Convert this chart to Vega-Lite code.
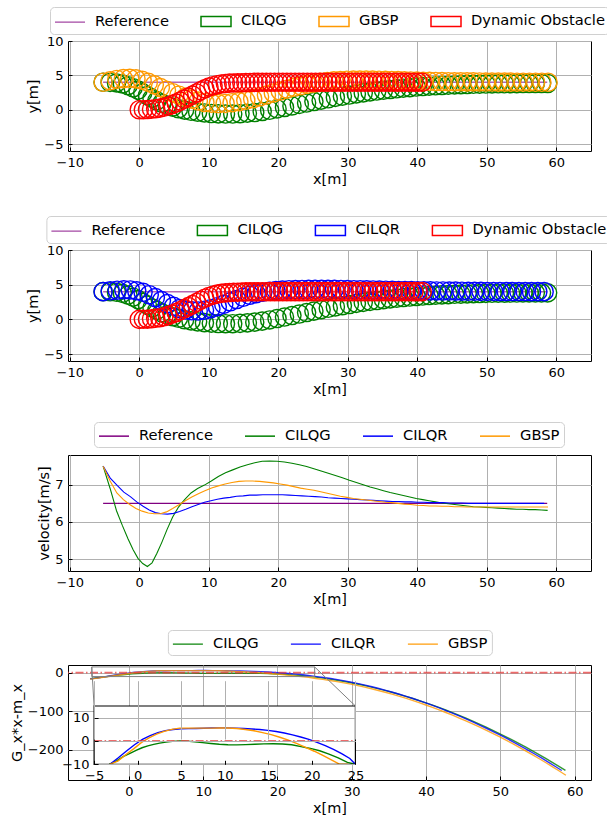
{
  "$schema": "https://vega.github.io/schema/vega-lite/v6.json",
  "background": "white",
  "padding": {"left": 8, "top": 6, "right": 0, "bottom": 4},
  "config": {
    "font": "DejaVu Sans",
    "view": {"stroke": "black", "strokeWidth": 1},
    "axis": {"domain": false, "grid": true, "gridColor": "#b0b0b0", "gridWidth": 1, "tickColor": "black", "tickSize": -4, "labelPadding": 9, "labelFontSize": 13, "labelColor": "black", "labelFont": "DejaVu Sans", "titleFont": "DejaVu Sans", "titleFontSize": 14.5, "titleFontWeight": "normal", "titleColor": "black", "titlePadding": 3, "labelFlush": false, "labelOverlap": false},
    "legend": {"orient": "none", "direction": "horizontal", "columns": 4, "labelFontSize": 14.7, "labelFont": "DejaVu Sans", "labelColor": "black", "symbolSize": 324, "symbolOffset": 6, "symbolType": "M-1.667,0H1.667", "symbolStrokeWidth": 1.5, "labelOffset": 15, "columnPadding": 28, "padding": 4, "strokeColor": "#d0d0d0", "cornerRadius": 4, "fillColor": "white"}
  },
  "datasets": {
    "traj": [
      {"m":"CILQG","x":-5.2,"y":4.0,"v":7.5,"g":-15.5},
      {"m":"CILQG","x":-4.19,"y":3.97,"v":6.9,"g":-13.0},
      {"m":"CILQG","x":-3.27,"y":3.9,"v":6.3,"g":-10.7},
      {"m":"CILQG","x":-2.42,"y":3.75,"v":5.9,"g":-8.5},
      {"m":"CILQG","x":-1.62,"y":3.5,"v":5.55,"g":-6.6},
      {"m":"CILQG","x":-0.88,"y":3.2,"v":5.25,"g":-5.3},
      {"m":"CILQG","x":-0.18,"y":2.85,"v":5.02,"g":-4.0},
      {"m":"CILQG","x":0.5,"y":2.45,"v":4.88,"g":-2.9},
      {"m":"CILQG","x":1.17,"y":2.05,"v":4.8,"g":-2.1},
      {"m":"CILQG","x":1.84,"y":1.65,"v":4.9,"g":-1.45},
      {"m":"CILQG","x":2.53,"y":1.3,"v":5.15,"g":-0.9},
      {"m":"CILQG","x":3.25,"y":0.95,"v":5.45,"g":-0.5},
      {"m":"CILQG","x":4.01,"y":0.65,"v":5.8,"g":-0.15},
      {"m":"CILQG","x":4.81,"y":0.38,"v":6.13,"g":0.0},
      {"m":"CILQG","x":5.65,"y":0.15,"v":6.4,"g":-0.05},
      {"m":"CILQG","x":6.53,"y":-0.05,"v":6.6,"g":-0.3},
      {"m":"CILQG","x":7.45,"y":-0.22,"v":6.78,"g":-0.7},
      {"m":"CILQG","x":8.4,"y":-0.36,"v":6.9,"g":-1.05},
      {"m":"CILQG","x":9.38,"y":-0.47,"v":6.99,"g":-1.4},
      {"m":"CILQG","x":10.37,"y":-0.55,"v":7.1,"g":-1.6},
      {"m":"CILQG","x":11.38,"y":-0.6,"v":7.22,"g":-1.65},
      {"m":"CILQG","x":12.41,"y":-0.62,"v":7.32,"g":-1.55},
      {"m":"CILQG","x":13.45,"y":-0.62,"v":7.4,"g":-1.4},
      {"m":"CILQG","x":14.5,"y":-0.58,"v":7.48,"g":-1.25},
      {"m":"CILQG","x":15.56,"y":-0.5,"v":7.54,"g":-1.2},
      {"m":"CILQG","x":16.62,"y":-0.4,"v":7.59,"g":-1.3},
      {"m":"CILQG","x":17.69,"y":-0.25,"v":7.63,"g":-1.6},
      {"m":"CILQG","x":18.76,"y":-0.08,"v":7.64,"g":-2.4},
      {"m":"CILQG","x":19.83,"y":0.12,"v":7.63,"g":-3.2},
      {"m":"CILQG","x":20.9,"y":0.33,"v":7.61,"g":-4.2},
      {"m":"CILQG","x":21.97,"y":0.55,"v":7.58,"g":-5.6},
      {"m":"CILQG","x":23.03,"y":0.77,"v":7.54,"g":-7.2},
      {"m":"CILQG","x":24.08,"y":0.98,"v":7.49,"g":-9.2},
      {"m":"CILQG","x":25.13,"y":1.19,"v":7.43,"g":-11.5},
      {"m":"CILQG","x":26.17,"y":1.4,"v":7.37,"g":-14.1},
      {"m":"CILQG","x":27.2,"y":1.6,"v":7.31,"g":-17.0},
      {"m":"CILQG","x":28.22,"y":1.79,"v":7.25,"g":-20.1},
      {"m":"CILQG","x":29.23,"y":1.97,"v":7.19,"g":-23.5},
      {"m":"CILQG","x":30.24,"y":2.14,"v":7.12,"g":-27.2},
      {"m":"CILQG","x":31.24,"y":2.3,"v":7.06,"g":-31.2},
      {"m":"CILQG","x":32.23,"y":2.45,"v":7.0,"g":-35.4},
      {"m":"CILQG","x":33.21,"y":2.59,"v":6.94,"g":-39.8},
      {"m":"CILQG","x":34.18,"y":2.72,"v":6.89,"g":-44.5},
      {"m":"CILQG","x":35.14,"y":2.84,"v":6.84,"g":-49.4},
      {"m":"CILQG","x":36.1,"y":2.95,"v":6.79,"g":-54.5},
      {"m":"CILQG","x":37.05,"y":3.05,"v":6.75,"g":-59.9},
      {"m":"CILQG","x":37.99,"y":3.14,"v":6.71,"g":-65.4},
      {"m":"CILQG","x":38.93,"y":3.22,"v":6.67,"g":-71.3},
      {"m":"CILQG","x":39.86,"y":3.3,"v":6.63,"g":-77.3},
      {"m":"CILQG","x":40.79,"y":3.37,"v":6.6,"g":-83.5},
      {"m":"CILQG","x":41.71,"y":3.43,"v":6.57,"g":-89.9},
      {"m":"CILQG","x":42.63,"y":3.48,"v":6.54,"g":-96.6},
      {"m":"CILQG","x":43.55,"y":3.53,"v":6.51,"g":-103.5},
      {"m":"CILQG","x":44.46,"y":3.57,"v":6.49,"g":-110.6},
      {"m":"CILQG","x":45.37,"y":3.61,"v":6.47,"g":-117.9},
      {"m":"CILQG","x":46.28,"y":3.64,"v":6.45,"g":-125.5},
      {"m":"CILQG","x":47.18,"y":3.67,"v":6.43,"g":-133.2},
      {"m":"CILQG","x":48.08,"y":3.7,"v":6.41,"g":-141.1},
      {"m":"CILQG","x":48.98,"y":3.72,"v":6.4,"g":-149.3},
      {"m":"CILQG","x":49.87,"y":3.74,"v":6.39,"g":-157.6},
      {"m":"CILQG","x":50.76,"y":3.76,"v":6.38,"g":-166.1},
      {"m":"CILQG","x":51.65,"y":3.77,"v":6.37,"g":-174.9},
      {"m":"CILQG","x":52.54,"y":3.78,"v":6.36,"g":-183.9},
      {"m":"CILQG","x":53.43,"y":3.79,"v":6.35,"g":-193.1},
      {"m":"CILQG","x":54.32,"y":3.8,"v":6.34,"g":-202.6},
      {"m":"CILQG","x":55.21,"y":3.81,"v":6.34,"g":-212.2},
      {"m":"CILQG","x":56.1,"y":3.81,"v":6.33,"g":-222.1},
      {"m":"CILQG","x":56.99,"y":3.82,"v":6.33,"g":-232.3},
      {"m":"CILQG","x":57.88,"y":3.82,"v":6.32,"g":-242.7},
      {"m":"CILQG","x":58.76,"y":3.82,"v":6.31,"g":-253.1},
      {"m":"CILQR","x":-5.2,"y":4.0,"v":7.5,"g":-16.0},
      {"m":"CILQR","x":-4.17,"y":4.12,"v":7.18,"g":-13.5},
      {"m":"CILQR","x":-3.18,"y":4.2,"v":6.98,"g":-10.4},
      {"m":"CILQR","x":-2.22,"y":4.26,"v":6.8,"g":-7.2},
      {"m":"CILQR","x":-1.28,"y":4.24,"v":6.68,"g":-4.3},
      {"m":"CILQR","x":-0.36,"y":4.12,"v":6.54,"g":-1.6},
      {"m":"CILQR","x":0.55,"y":3.9,"v":6.42,"g":0.7},
      {"m":"CILQR","x":1.44,"y":3.55,"v":6.32,"g":2.3},
      {"m":"CILQR","x":2.32,"y":3.14,"v":6.25,"g":3.6},
      {"m":"CILQR","x":3.19,"y":2.7,"v":6.22,"g":4.45},
      {"m":"CILQR","x":4.06,"y":2.27,"v":6.21,"g":4.95},
      {"m":"CILQR","x":4.93,"y":1.88,"v":6.23,"g":5.2},
      {"m":"CILQR","x":5.81,"y":1.56,"v":6.28,"g":5.3},
      {"m":"CILQR","x":6.69,"y":1.34,"v":6.34,"g":5.35},
      {"m":"CILQR","x":7.58,"y":1.23,"v":6.41,"g":5.45},
      {"m":"CILQR","x":8.48,"y":1.21,"v":6.47,"g":5.55},
      {"m":"CILQR","x":9.39,"y":1.32,"v":6.53,"g":5.6},
      {"m":"CILQR","x":10.31,"y":1.54,"v":6.57,"g":5.6},
      {"m":"CILQR","x":11.23,"y":1.83,"v":6.61,"g":5.5},
      {"m":"CILQR","x":12.16,"y":2.16,"v":6.64,"g":5.35},
      {"m":"CILQR","x":13.09,"y":2.53,"v":6.66,"g":5.15},
      {"m":"CILQR","x":14.02,"y":2.86,"v":6.69,"g":4.9},
      {"m":"CILQR","x":14.96,"y":3.19,"v":6.7,"g":4.55},
      {"m":"CILQR","x":15.9,"y":3.47,"v":6.72,"g":4.05},
      {"m":"CILQR","x":16.84,"y":3.71,"v":6.72,"g":3.4},
      {"m":"CILQR","x":17.78,"y":3.91,"v":6.73,"g":2.6},
      {"m":"CILQR","x":18.72,"y":4.06,"v":6.73,"g":1.7},
      {"m":"CILQR","x":19.66,"y":4.16,"v":6.73,"g":0.7},
      {"m":"CILQR","x":20.6,"y":4.22,"v":6.73,"g":-0.6},
      {"m":"CILQR","x":21.54,"y":4.27,"v":6.72,"g":-2.0},
      {"m":"CILQR","x":22.48,"y":4.3,"v":6.71,"g":-3.6},
      {"m":"CILQR","x":23.42,"y":4.31,"v":6.7,"g":-5.4},
      {"m":"CILQR","x":24.36,"y":4.32,"v":6.69,"g":-7.5},
      {"m":"CILQR","x":25.3,"y":4.33,"v":6.68,"g":-10.0},
      {"m":"CILQR","x":26.23,"y":4.33,"v":6.67,"g":-12.4},
      {"m":"CILQR","x":27.16,"y":4.33,"v":6.65,"g":-15.1},
      {"m":"CILQR","x":28.09,"y":4.33,"v":6.64,"g":-18.0},
      {"m":"CILQR","x":29.02,"y":4.31,"v":6.63,"g":-21.2},
      {"m":"CILQR","x":29.95,"y":4.3,"v":6.62,"g":-24.7},
      {"m":"CILQR","x":30.88,"y":4.28,"v":6.61,"g":-28.4},
      {"m":"CILQR","x":31.8,"y":4.27,"v":6.6,"g":-32.3},
      {"m":"CILQR","x":32.72,"y":4.25,"v":6.59,"g":-36.5},
      {"m":"CILQR","x":33.64,"y":4.24,"v":6.58,"g":-41.0},
      {"m":"CILQR","x":34.56,"y":4.22,"v":6.57,"g":-45.6},
      {"m":"CILQR","x":35.48,"y":4.21,"v":6.56,"g":-50.6},
      {"m":"CILQR","x":36.4,"y":4.19,"v":6.55,"g":-55.8},
      {"m":"CILQR","x":37.32,"y":4.17,"v":6.55,"g":-61.2},
      {"m":"CILQR","x":38.24,"y":4.16,"v":6.54,"g":-66.9},
      {"m":"CILQR","x":39.15,"y":4.14,"v":6.54,"g":-72.8},
      {"m":"CILQR","x":40.06,"y":4.13,"v":6.53,"g":-78.9},
      {"m":"CILQR","x":40.97,"y":4.12,"v":6.53,"g":-85.3},
      {"m":"CILQR","x":41.88,"y":4.11,"v":6.52,"g":-91.9},
      {"m":"CILQR","x":42.79,"y":4.1,"v":6.52,"g":-98.8},
      {"m":"CILQR","x":43.7,"y":4.09,"v":6.52,"g":-105.9},
      {"m":"CILQR","x":44.61,"y":4.08,"v":6.51,"g":-113.3},
      {"m":"CILQR","x":45.52,"y":4.07,"v":6.51,"g":-120.9},
      {"m":"CILQR","x":46.43,"y":4.06,"v":6.51,"g":-128.7},
      {"m":"CILQR","x":47.34,"y":4.05,"v":6.5,"g":-136.9},
      {"m":"CILQR","x":48.25,"y":4.05,"v":6.5,"g":-145.2},
      {"m":"CILQR","x":49.16,"y":4.04,"v":6.5,"g":-153.8},
      {"m":"CILQR","x":50.07,"y":4.03,"v":6.5,"g":-162.6},
      {"m":"CILQR","x":50.98,"y":4.03,"v":6.5,"g":-171.7},
      {"m":"CILQR","x":51.89,"y":4.02,"v":6.5,"g":-181.1},
      {"m":"CILQR","x":52.8,"y":4.02,"v":6.5,"g":-190.7},
      {"m":"CILQR","x":53.71,"y":4.01,"v":6.5,"g":-200.5},
      {"m":"CILQR","x":54.62,"y":4.01,"v":6.5,"g":-210.6},
      {"m":"CILQR","x":55.53,"y":4.01,"v":6.5,"g":-220.9},
      {"m":"CILQR","x":56.44,"y":4.0,"v":6.5,"g":-231.5},
      {"m":"CILQR","x":57.35,"y":4.0,"v":6.5,"g":-242.3},
      {"m":"CILQR","x":58.26,"y":4.0,"v":6.5,"g":-253.4},
      {"m":"GBSP","x":-5.2,"y":4.0,"v":7.5,"g":-16.5},
      {"m":"GBSP","x":-4.19,"y":4.21,"v":7.1,"g":-14.0},
      {"m":"GBSP","x":-3.22,"y":4.41,"v":6.78,"g":-11.2},
      {"m":"GBSP","x":-2.28,"y":4.53,"v":6.6,"g":-8.6},
      {"m":"GBSP","x":-1.37,"y":4.56,"v":6.47,"g":-5.9},
      {"m":"GBSP","x":-0.47,"y":4.49,"v":6.36,"g":-3.4},
      {"m":"GBSP","x":0.42,"y":4.28,"v":6.29,"g":-0.7},
      {"m":"GBSP","x":1.3,"y":3.98,"v":6.24,"g":1.3},
      {"m":"GBSP","x":2.17,"y":3.62,"v":6.22,"g":2.9},
      {"m":"GBSP","x":3.04,"y":3.23,"v":6.22,"g":4.15},
      {"m":"GBSP","x":3.92,"y":2.84,"v":6.27,"g":5.0},
      {"m":"GBSP","x":4.81,"y":2.48,"v":6.36,"g":5.5},
      {"m":"GBSP","x":5.71,"y":2.12,"v":6.46,"g":5.5},
      {"m":"GBSP","x":6.63,"y":1.81,"v":6.57,"g":5.5},
      {"m":"GBSP","x":7.56,"y":1.53,"v":6.67,"g":5.5},
      {"m":"GBSP","x":8.5,"y":1.27,"v":6.76,"g":5.5},
      {"m":"GBSP","x":9.45,"y":1.06,"v":6.84,"g":5.55},
      {"m":"GBSP","x":10.41,"y":0.95,"v":6.91,"g":5.55},
      {"m":"GBSP","x":11.38,"y":0.9,"v":6.97,"g":5.35},
      {"m":"GBSP","x":12.36,"y":0.92,"v":7.02,"g":4.95},
      {"m":"GBSP","x":13.35,"y":1.03,"v":7.06,"g":4.4},
      {"m":"GBSP","x":14.34,"y":1.18,"v":7.09,"g":3.6},
      {"m":"GBSP","x":15.33,"y":1.37,"v":7.1,"g":2.7},
      {"m":"GBSP","x":16.32,"y":1.6,"v":7.1,"g":1.6},
      {"m":"GBSP","x":17.31,"y":1.86,"v":7.09,"g":0.4},
      {"m":"GBSP","x":18.3,"y":2.14,"v":7.07,"g":-1.1},
      {"m":"GBSP","x":19.29,"y":2.44,"v":7.05,"g":-2.7},
      {"m":"GBSP","x":20.28,"y":2.72,"v":7.02,"g":-4.4},
      {"m":"GBSP","x":21.26,"y":2.99,"v":6.99,"g":-6.2},
      {"m":"GBSP","x":22.24,"y":3.26,"v":6.95,"g":-8.1},
      {"m":"GBSP","x":23.21,"y":3.48,"v":6.91,"g":-10.0},
      {"m":"GBSP","x":24.18,"y":3.69,"v":6.88,"g":-12.1},
      {"m":"GBSP","x":25.14,"y":3.86,"v":6.85,"g":-14.9},
      {"m":"GBSP","x":26.1,"y":4.0,"v":6.81,"g":-17.3},
      {"m":"GBSP","x":27.05,"y":4.1,"v":6.77,"g":-20.0},
      {"m":"GBSP","x":28.0,"y":4.2,"v":6.73,"g":-23.0},
      {"m":"GBSP","x":28.94,"y":4.25,"v":6.69,"g":-26.2},
      {"m":"GBSP","x":29.88,"y":4.29,"v":6.66,"g":-29.7},
      {"m":"GBSP","x":30.81,"y":4.31,"v":6.63,"g":-33.4},
      {"m":"GBSP","x":31.74,"y":4.32,"v":6.61,"g":-37.4},
      {"m":"GBSP","x":32.66,"y":4.32,"v":6.59,"g":-41.5},
      {"m":"GBSP","x":33.58,"y":4.31,"v":6.57,"g":-46.0},
      {"m":"GBSP","x":34.5,"y":4.3,"v":6.55,"g":-50.6},
      {"m":"GBSP","x":35.42,"y":4.28,"v":6.53,"g":-55.6},
      {"m":"GBSP","x":36.33,"y":4.26,"v":6.52,"g":-60.7},
      {"m":"GBSP","x":37.24,"y":4.24,"v":6.5,"g":-66.0},
      {"m":"GBSP","x":38.15,"y":4.21,"v":6.48,"g":-71.6},
      {"m":"GBSP","x":39.06,"y":4.19,"v":6.47,"g":-77.5},
      {"m":"GBSP","x":39.96,"y":4.16,"v":6.45,"g":-83.6},
      {"m":"GBSP","x":40.86,"y":4.14,"v":6.44,"g":-89.8},
      {"m":"GBSP","x":41.76,"y":4.13,"v":6.43,"g":-96.4},
      {"m":"GBSP","x":42.66,"y":4.11,"v":6.43,"g":-103.1},
      {"m":"GBSP","x":43.56,"y":4.1,"v":6.42,"g":-110.1},
      {"m":"GBSP","x":44.46,"y":4.08,"v":6.42,"g":-117.4},
      {"m":"GBSP","x":45.36,"y":4.07,"v":6.41,"g":-124.8},
      {"m":"GBSP","x":46.26,"y":4.06,"v":6.41,"g":-132.6},
      {"m":"GBSP","x":47.16,"y":4.05,"v":6.4,"g":-140.5},
      {"m":"GBSP","x":48.06,"y":4.05,"v":6.4,"g":-148.7},
      {"m":"GBSP","x":48.96,"y":4.04,"v":6.4,"g":-157.2},
      {"m":"GBSP","x":49.86,"y":4.03,"v":6.4,"g":-165.9},
      {"m":"GBSP","x":50.76,"y":4.03,"v":6.4,"g":-174.8},
      {"m":"GBSP","x":51.66,"y":4.02,"v":6.4,"g":-184.0},
      {"m":"GBSP","x":52.55,"y":4.02,"v":6.4,"g":-193.3},
      {"m":"GBSP","x":53.45,"y":4.02,"v":6.4,"g":-203.0},
      {"m":"GBSP","x":54.35,"y":4.01,"v":6.4,"g":-212.9},
      {"m":"GBSP","x":55.24,"y":4.01,"v":6.4,"g":-222.9},
      {"m":"GBSP","x":56.14,"y":4.01,"v":6.4,"g":-233.3},
      {"m":"GBSP","x":57.03,"y":4.0,"v":6.4,"g":-243.8},
      {"m":"GBSP","x":57.93,"y":4.0,"v":6.4,"g":-254.6},
      {"m":"GBSP","x":58.82,"y":4.0,"v":6.4,"g":-265.6},
      {"m":"Dynamic Obstacle","x":0,"y":0},
      {"m":"Dynamic Obstacle","x":0.59,"y":0.01},
      {"m":"Dynamic Obstacle","x":1.18,"y":0.03},
      {"m":"Dynamic Obstacle","x":1.77,"y":0.08},
      {"m":"Dynamic Obstacle","x":2.36,"y":0.15},
      {"m":"Dynamic Obstacle","x":2.95,"y":0.24},
      {"m":"Dynamic Obstacle","x":3.54,"y":0.37},
      {"m":"Dynamic Obstacle","x":4.13,"y":0.54},
      {"m":"Dynamic Obstacle","x":4.72,"y":0.75},
      {"m":"Dynamic Obstacle","x":5.31,"y":0.98},
      {"m":"Dynamic Obstacle","x":5.9,"y":1.25},
      {"m":"Dynamic Obstacle","x":6.49,"y":1.55},
      {"m":"Dynamic Obstacle","x":7.08,"y":1.84},
      {"m":"Dynamic Obstacle","x":7.67,"y":2.13},
      {"m":"Dynamic Obstacle","x":8.26,"y":2.44},
      {"m":"Dynamic Obstacle","x":8.85,"y":2.77},
      {"m":"Dynamic Obstacle","x":9.44,"y":3.05},
      {"m":"Dynamic Obstacle","x":10.03,"y":3.31},
      {"m":"Dynamic Obstacle","x":10.62,"y":3.49},
      {"m":"Dynamic Obstacle","x":11.21,"y":3.64},
      {"m":"Dynamic Obstacle","x":11.8,"y":3.75},
      {"m":"Dynamic Obstacle","x":12.39,"y":3.82},
      {"m":"Dynamic Obstacle","x":12.98,"y":3.87},
      {"m":"Dynamic Obstacle","x":13.57,"y":3.9},
      {"m":"Dynamic Obstacle","x":14.16,"y":3.92},
      {"m":"Dynamic Obstacle","x":14.75,"y":3.94},
      {"m":"Dynamic Obstacle","x":15.34,"y":3.96},
      {"m":"Dynamic Obstacle","x":15.93,"y":3.97},
      {"m":"Dynamic Obstacle","x":16.52,"y":3.98},
      {"m":"Dynamic Obstacle","x":17.11,"y":3.98},
      {"m":"Dynamic Obstacle","x":17.7,"y":3.99},
      {"m":"Dynamic Obstacle","x":18.29,"y":3.99},
      {"m":"Dynamic Obstacle","x":18.88,"y":4.0},
      {"m":"Dynamic Obstacle","x":19.47,"y":4.0},
      {"m":"Dynamic Obstacle","x":20.06,"y":4.0},
      {"m":"Dynamic Obstacle","x":20.65,"y":4.0},
      {"m":"Dynamic Obstacle","x":21.24,"y":4.0},
      {"m":"Dynamic Obstacle","x":21.83,"y":4.0},
      {"m":"Dynamic Obstacle","x":22.42,"y":4.0},
      {"m":"Dynamic Obstacle","x":23.01,"y":4.0},
      {"m":"Dynamic Obstacle","x":23.6,"y":4.0},
      {"m":"Dynamic Obstacle","x":24.19,"y":4.0},
      {"m":"Dynamic Obstacle","x":24.78,"y":4.0},
      {"m":"Dynamic Obstacle","x":25.37,"y":4.0},
      {"m":"Dynamic Obstacle","x":25.96,"y":4.0},
      {"m":"Dynamic Obstacle","x":26.55,"y":4.0},
      {"m":"Dynamic Obstacle","x":27.14,"y":4.0},
      {"m":"Dynamic Obstacle","x":27.73,"y":4.0},
      {"m":"Dynamic Obstacle","x":28.32,"y":4.0},
      {"m":"Dynamic Obstacle","x":28.91,"y":4.0},
      {"m":"Dynamic Obstacle","x":29.5,"y":4.0},
      {"m":"Dynamic Obstacle","x":30.09,"y":4.0},
      {"m":"Dynamic Obstacle","x":30.68,"y":4.0},
      {"m":"Dynamic Obstacle","x":31.27,"y":4.0},
      {"m":"Dynamic Obstacle","x":31.86,"y":4.0},
      {"m":"Dynamic Obstacle","x":32.45,"y":4.0},
      {"m":"Dynamic Obstacle","x":33.04,"y":4.0},
      {"m":"Dynamic Obstacle","x":33.63,"y":4.0},
      {"m":"Dynamic Obstacle","x":34.22,"y":4.0},
      {"m":"Dynamic Obstacle","x":34.81,"y":4.0},
      {"m":"Dynamic Obstacle","x":35.4,"y":4.0},
      {"m":"Dynamic Obstacle","x":35.99,"y":4.0},
      {"m":"Dynamic Obstacle","x":36.58,"y":4.0},
      {"m":"Dynamic Obstacle","x":37.17,"y":4.0},
      {"m":"Dynamic Obstacle","x":37.76,"y":4.0},
      {"m":"Dynamic Obstacle","x":38.35,"y":4.0},
      {"m":"Dynamic Obstacle","x":38.94,"y":4.0},
      {"m":"Dynamic Obstacle","x":39.53,"y":4.0},
      {"m":"Dynamic Obstacle","x":40.12,"y":4.0},
      {"m":"Dynamic Obstacle","x":40.71,"y":4.0},
      {"m":"Reference","x":-5.2,"y":4.0,"v":6.5},
      {"m":"Reference","x":58.7,"y":4.0,"v":6.5}
    ]
  },
  "bounds": "flush",
  "spacing": 99,
  "resolve": {"scale": {"color": "independent"}, "legend": {"color": "independent"}},
  "vconcat": [
    {
      "width": 523, "height": 110,
      "layer": [
        {"data": {"name": "traj"}, "transform": [{"filter": "datum.m === 'Reference'"}],
         "mark": {"type": "line", "strokeWidth": 1.5},
         "encoding": {
           "x": {"field": "x", "type": "quantitative", "title": "x[m]", "scale": {"domain": [-10.25, 65], "nice": false, "zero": false}, "axis": {"values": [-10,0,10,20,30,40,50,60]}},
           "y": {"field": "y", "type": "quantitative", "title": "y[m]", "scale": {"domain": [-6, 10], "nice": false, "zero": false}, "axis": {"values": [-5,0,5,10]}},
           "color": {"field": "m", "type": "nominal", "scale": {"domain": ["Reference","CILQG","GBSP","Dynamic Obstacle"], "range": ["#b366b3","#008000","#ff9900","#ff0000"]},
             "legend": {"title": null, "legendX": -18, "legendY": -34,
               "encode": {"symbols": {"update": {"shape": {"signal": "datum.value === 'Reference' ? 'M-1.667,0H1.667' : 'M-1.667,-0.556H1.667V0.556H-1.667Z'"}, "fill": {"value": "transparent"}}}}}}
         }},
        {"data": {"name": "traj"}, "transform": [{"filter": {"field": "m", "oneOf": ["CILQG","GBSP","Dynamic Obstacle"]}}],
         "mark": {"type": "point", "filled": false, "size": 330, "strokeWidth": 1.4, "opacity": 1},
         "encoding": {
           "x": {"field": "x", "type": "quantitative", "title": "x[m]", "axis": {"values": [-10,0,10,20,30,40,50,60]}},
           "y": {"field": "y", "type": "quantitative", "title": "y[m]", "axis": {"values": [-5,0,5,10]}},
           "color": {"field": "m", "type": "nominal"}
         }}
      ]
    },
    {
      "bounds": "flush",
      "spacing": 94,
      "resolve": {"scale": {"color": "independent"}, "legend": {"color": "independent"}},
      "vconcat": [
        {
          "width": 523, "height": 111,
          "layer": [
            {"data": {"name": "traj"}, "transform": [{"filter": "datum.m === 'Reference'"}],
             "mark": {"type": "line", "strokeWidth": 1.5},
             "encoding": {
               "x": {"field": "x", "type": "quantitative", "title": "x[m]", "scale": {"domain": [-10.25, 65], "nice": false, "zero": false}, "axis": {"values": [-10,0,10,20,30,40,50,60]}},
               "y": {"field": "y", "type": "quantitative", "title": "y[m]", "scale": {"domain": [-6, 10], "nice": false, "zero": false}, "axis": {"values": [-5,0,5,10]}},
               "color": {"field": "m", "type": "nominal", "scale": {"domain": ["Reference","CILQG","CILQR","Dynamic Obstacle"], "range": ["#b366b3","#008000","#0000ff","#ff0000"]},
                 "legend": {"title": null, "legendX": -21.6, "legendY": -34,
                   "encode": {"symbols": {"update": {"shape": {"signal": "datum.value === 'Reference' ? 'M-1.667,0H1.667' : 'M-1.667,-0.556H1.667V0.556H-1.667Z'"}, "fill": {"value": "transparent"}}}}}}
             }},
            {"data": {"name": "traj"}, "transform": [{"filter": {"field": "m", "oneOf": ["CILQG","CILQR","Dynamic Obstacle"]}}],
             "mark": {"type": "point", "filled": false, "size": 330, "strokeWidth": 1.4, "opacity": 1},
             "encoding": {
               "x": {"field": "x", "type": "quantitative", "title": "x[m]", "axis": {"values": [-10,0,10,20,30,40,50,60]}},
               "y": {"field": "y", "type": "quantitative", "title": "y[m]", "axis": {"values": [-5,0,5,10]}},
               "color": {"field": "m", "type": "nominal"}
             }}
          ]
        },
        {
          "width": 523, "height": 116,
          "layer": [
            {"data": {"name": "traj"}, "transform": [{"filter": "datum.m === 'Reference'"}],
             "mark": {"type": "line", "strokeWidth": 1.2},
             "encoding": {
               "x": {"field": "x", "type": "quantitative", "title": "x[m]", "scale": {"domain": [-10.25, 65], "nice": false, "zero": false}, "axis": {"values": [-10,0,10,20,30,40,50,60]}},
               "y": {"field": "v", "type": "quantitative", "title": "velocity[m/s]", "scale": {"domain": [4.68, 7.8], "nice": false, "zero": false}, "axis": {"values": [5,6,7]}},
               "color": {"field": "m", "type": "nominal", "scale": {"domain": ["Reference","CILQG","CILQR","GBSP"], "range": ["#800080","#008000","#0000ff","#ff9900"]}, "legend": {"title": null, "legendX": 26, "legendY": -33}}
             }},
            {"data": {"name": "traj"}, "transform": [{"filter": {"field": "m", "oneOf": ["CILQG","CILQR","GBSP"]}}],
             "mark": {"type": "line", "strokeWidth": 1.1},
             "encoding": {
               "x": {"field": "x", "type": "quantitative", "title": "x[m]"},
               "y": {"field": "v", "type": "quantitative", "title": "velocity[m/s]"},
               "color": {"field": "m", "type": "nominal"}
             }}
          ]
        },
        {
          "width": 523, "height": 115,
          "resolve": {"scale": {"x": "independent", "y": "independent"}, "axis": {"x": "independent", "y": "independent"}},
          "layer": [
            {
              "layer": [
                {"data": {"name": "traj"}, "transform": [{"filter": {"field": "m", "oneOf": ["CILQG","CILQR","GBSP"]}}],
                 "mark": {"type": "line", "strokeWidth": 1.4, "opacity": 0.8},
                 "encoding": {
                   "x": {"field": "x", "type": "quantitative", "title": "x[m]", "scale": {"domain": [-8.2, 62.2], "nice": false, "zero": false}, "axis": {"values": [0,10,20,30,40,50,60]}},
                   "y": {"field": "g", "type": "quantitative", "title": "G_x*x-m_x", "scale": {"domain": [-278, 20], "nice": false, "zero": false}, "axis": {"values": [-200,-100,0]}},
                   "color": {"field": "m", "type": "nominal", "scale": {"domain": ["CILQG","CILQR","GBSP"], "range": ["#008000","#0000ff","#ff9900"]}, "legend": {"title": null, "legendX": 99.9, "legendY": -35}}
                 }},
                {"data": {"values": [{}]},
                 "mark": {"type": "rule", "color": "#e83a3a", "strokeDash": [8, 2.5, 1.5, 2.5], "strokeWidth": 1.8, "opacity": 0.75},
                 "encoding": {"y": {"datum": 0, "type": "quantitative", "title": "G_x*x-m_x"}}},
                {"data": {"values": [{}]},
                 "mark": {"type": "rect", "fillOpacity": 0, "stroke": "#808080", "strokeWidth": 1},
                 "encoding": {"x": {"datum": -5, "type": "quantitative", "title": "x[m]"}, "x2": {"datum": 25}, "y": {"datum": -10, "type": "quantitative", "title": "G_x*x-m_x"}, "y2": {"datum": 15}}},
                {"data": {"values": [{"x1": -5, "y1": 15, "x2": -4.69, "y2": -86.2}, {"x1": 25, "y1": 15, "x2": 30.49, "y2": -86.2}]},
                 "mark": {"type": "rule", "color": "#808080", "strokeWidth": 1},
                 "encoding": {"x": {"field": "x1", "type": "quantitative", "title": "x[m]"}, "y": {"field": "y1", "type": "quantitative", "title": "G_x*x-m_x"}, "x2": {"field": "x2"}, "y2": {"field": "y2"}}}
              ]
            },
            {
              "layer": [
                {"data": {"values": [{}]},
                 "mark": {"type": "rect", "fill": "white", "strokeWidth": 0},
                 "encoding": {
                   "x": {"datum": -5, "type": "quantitative", "scale": {"domain": [-5, 25], "range": [26.1, 287.4], "nice": false, "zero": false, "clamp": true},
                         "axis": {"orient": "bottom", "offset": -15.7, "values": [-5,0,5,10,15,20,25], "title": null, "zindex": 1, "grid": true}},
                   "x2": {"datum": 25},
                   "y": {"datum": -10, "type": "quantitative", "scale": {"domain": [-10, 15], "range": [99.3, 41], "nice": false, "zero": false, "clamp": true},
                         "axis": {"orient": "left", "offset": -26.1, "values": [-10,0,10], "title": null, "zindex": 1, "grid": true}},
                   "y2": {"datum": 15}
                 }},
                {"data": {"name": "traj"}, "transform": [{"filter": "(datum.m === 'CILQG' || datum.m === 'CILQR' || datum.m === 'GBSP') && datum.x >= -5.6 && datum.x <= 26 && datum.g >= -12.5"}],
                 "mark": {"type": "line", "strokeWidth": 1.4},
                 "encoding": {
                   "x": {"field": "x", "type": "quantitative"},
                   "y": {"field": "g", "type": "quantitative"},
                   "color": {"field": "m", "type": "nominal", "legend": null}
                 }},
                {"data": {"values": [{}]},
                 "mark": {"type": "rule", "color": "#e83a3a", "strokeDash": [8, 2.5, 1.5, 2.5], "strokeWidth": 1.8, "opacity": 0.75},
                 "encoding": {"x": {"datum": -5, "type": "quantitative"}, "x2": {"datum": 25}, "y": {"datum": 0, "type": "quantitative"}}},
                {"data": {"values": [{}]},
                 "mark": {"type": "rect", "fillOpacity": 0, "stroke": "black", "strokeWidth": 1.2},
                 "encoding": {"x": {"datum": -5, "type": "quantitative"}, "x2": {"datum": 25}, "y": {"datum": -10, "type": "quantitative"}, "y2": {"datum": 15}}}
              ]
            }
          ]
        }
      ]
    }
  ]
}
